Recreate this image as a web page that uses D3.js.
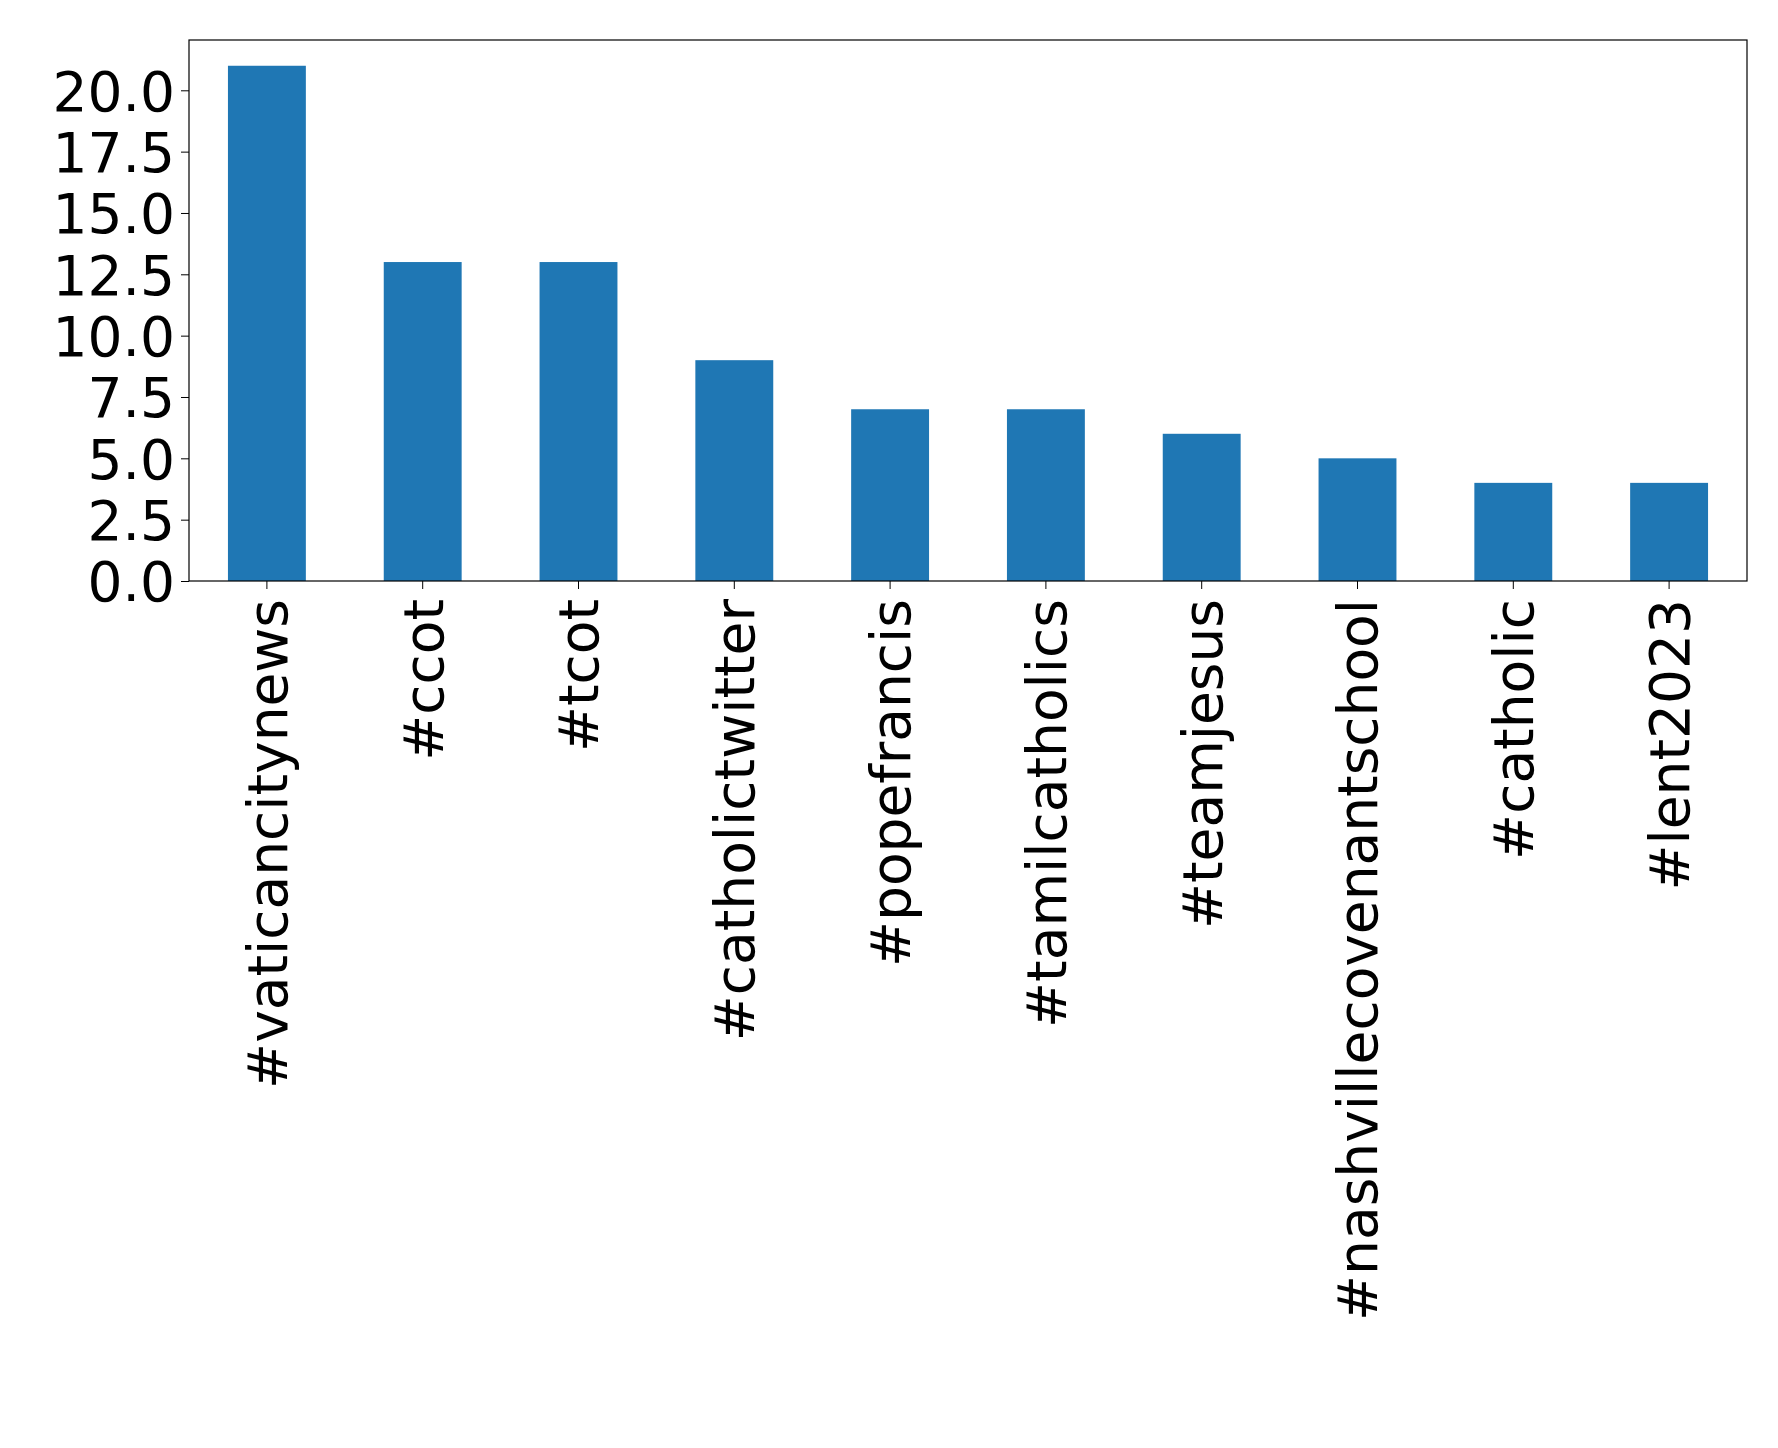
<!DOCTYPE html><html><head><script src="https://cdn.jsdelivr.net/npm/d3@7"></script>
<style>body{margin:0;background:#fff}</style></head><body><svg id="c" width="1778" height="1448"></svg><script>
const categories=["#vaticancitynews","#ccot","#tcot","#catholictwitter","#popefrancis","#tamilcatholics","#teamjesus","#nashvillecovenantschool","#catholic","#lent2023"];
const values=[21,13,13,9,7,7,6,5,4,4];
const yTicks=[0,2.5,5,7.5,10,12.5,15,17.5,20];
const m={l:189,r:1747,t:40,b:581};
const svg=d3.select("#c");
const x=d3.scaleBand().domain(categories).range([m.l,m.r]).paddingInner(0.5).paddingOuter(0.25);
const y=d3.scaleLinear().domain([0,22.05]).range([m.b,m.t]);
svg.selectAll("rect.b").data(values).enter().append("rect").attr("fill","#1f77b4")
 .attr("x",(d,i)=>x(categories[i])).attr("width",x.bandwidth()).attr("y",d=>y(d)).attr("height",d=>y(0)-y(d));
svg.append("rect").attr("x",m.l).attr("y",m.t).attr("width",m.r-m.l).attr("height",m.b-m.t).attr("fill","none").attr("stroke","#000").attr("stroke-width",1.2);
const ya=svg.append("g").attr("transform",`translate(${m.l},0)`).call(d3.axisLeft(y).tickValues(yTicks).tickFormat(d3.format(".1f")).tickSize(8).tickPadding(6));
ya.select(".domain").remove();
ya.selectAll("text").attr("font-family","DejaVu Sans").attr("font-size",55).attr("fill","#000").attr("dy","0.36em");
const xa=svg.append("g").attr("transform",`translate(0,${m.b})`).call(d3.axisBottom(x).tickSize(8).tickPadding(8));
xa.select(".domain").remove();
xa.selectAll("text").attr("font-family","DejaVu Sans").attr("font-size",55).attr("fill","#000")
 .attr("transform","rotate(-90)").attr("text-anchor","end").attr("x",-18).attr("y",0).attr("dy","0.36em");
</script></body></html>
